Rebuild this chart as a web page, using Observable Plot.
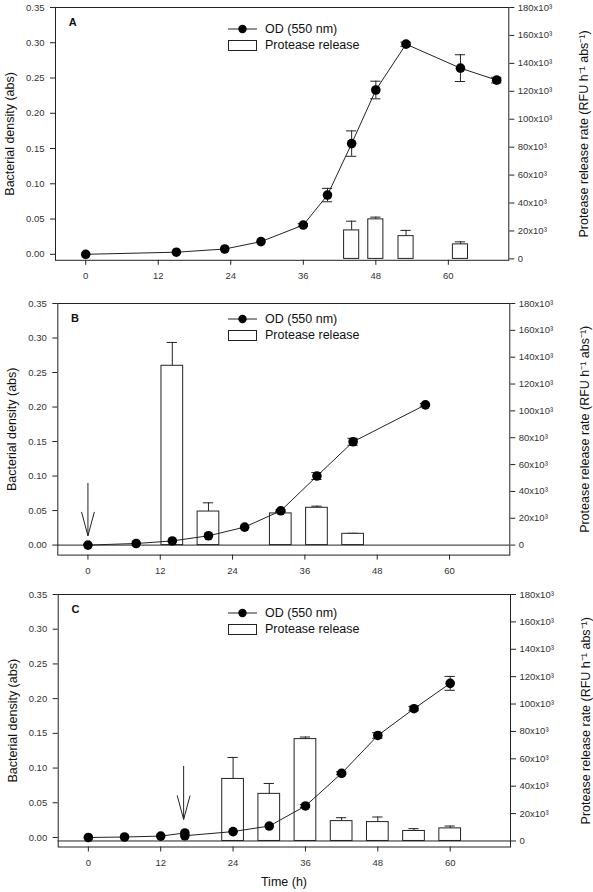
<!DOCTYPE html>
<html><head><meta charset="utf-8">
<script src="https://cdn.jsdelivr.net/npm/d3@7"></script>
<script src="https://cdn.jsdelivr.net/npm/@observablehq/plot@0.6"></script>
<style>
body{margin:0;background:#fff;font-family:"Liberation Sans",Arial,sans-serif;}
#chart{position:relative;width:593px;height:892px;overflow:hidden;background:#fff;}
#chart svg.plotsvg{position:absolute;left:0;overflow:visible;}
.leg{position:absolute;font-size:12.5px;color:#111;line-height:16px;}
.leg .row{display:flex;align-items:center;height:16px;}
.leg .row span{margin-left:7px;}
.xlab{position:absolute;left:0;width:568px;text-align:center;font-size:12.5px;color:#111;line-height:16px;}
</style></head><body><div id="chart"></div>
<script>
// ---------- data ----------
const panelNames = ["A", "B", "C"];
const xTicks = [0, 12, 24, 36, 48, 60];
const leftTicks = [0, 0.05, 0.10, 0.15, 0.20, 0.25, 0.30, 0.35];
const rightTicks = [0, 20000, 40000, 60000, 80000, 100000, 120000, 140000, 160000, 180000];
const leftLabel = "Bacterial density (abs)";
const rightLabel = "Protease release rate (RFU h\u207B\u00B9 abs\u207B\u00B9)";
const xLabel = "Time (h)";
const legendOD = "OD (550 nm)";
const legendBar = "Protease release";

// Panel A
const odTimeA  = [0, 15, 23, 29, 36, 40, 44, 48, 53, 62, 68];
const odValueA = [0.000, 0.003, 0.0075, 0.018, 0.0415, 0.084, 0.157, 0.233, 0.298, 0.264, 0.247];
const odErrA   = [0, 0, 0, 0, 0.002, 0.0095, 0.018, 0.0125, 0.003, 0.019, 0.004];
const barTimeA  = [44, 48, 53, 62];
const barValueA = [20400, 28300, 16300, 10400];
const barErrA   = [6600, 1600, 4100, 1800];

// Panel B
const odTimeB  = [0, 8, 14, 20, 26, 32, 38, 44, 56];
const odValueB = [0.000, 0.0023, 0.006, 0.0135, 0.026, 0.0497, 0.100, 0.1497, 0.2032];
const odErrB   = [0, 0, 0, 0, 0, 0.001, 0.005, 0.005, 0.002];
const barTimeB  = [14, 20, 32, 38, 44];
const barValueB = [133600, 25000, 23600, 27800, 8400];
const barErrB   = [17400, 6500, 800, 1200, 400];
const arrowTimeB = [0], arrowTopB = [0.09], arrowTipB = [0.0135];

// Panel C
const odTimeC  = [0, 6, 12, 16, 16, 24, 30, 36, 42, 48, 54, 60];
const odValueC = [0.000, 0.0007, 0.002, 0.0065, 0.0025, 0.0085, 0.0165, 0.0454, 0.0925, 0.147, 0.1855, 0.222];
const odErrC   = [0, 0, 0, 0, 0, 0, 0, 0.002, 0.002, 0.004, 0.003, 0.010];
const barTimeC  = [24, 30, 36, 42, 48, 54, 60];
const barValueC = [45300, 34400, 74400, 14500, 13800, 7300, 9200];
const barErrC   = [15700, 7600, 1500, 2500, 3700, 1700, 1700];
const arrowTimeC = [15.8], arrowTopC = [0.103], arrowTipC = [0.026];

// ---------- build ----------
const mk = (ts, vs, es) => ts.map((t, i) => ({t, v: vs[i], e: es[i]}));
const mkArrow = (ts, tops, tips) => ts.map((t, i) => ({t, top: tops[i], tip: tips[i]}));

const panels = [
  {name: "A", od: mk(odTimeA, odValueA, odErrA), bars: mk(barTimeA, barValueA, barErrA), arrows: [],
   L: {top: 6.5, bottom: 259.3, left: 55, right: 508.3, yMin: -0.0085, rMin: -1000, zero: false, legendY: 29, barW: 2.5}},
  {name: "B", od: mk(odTimeB, odValueB, odErrB), bars: mk(barTimeB, barValueB, barErrB), arrows: mkArrow(arrowTimeB, arrowTopB, arrowTipB),
   L: {top: 302.7, bottom: 554.3, left: 57.3, right: 509.3, yMin: -0.0145, rMin: -7450, zero: true, legendY: 319, barW: 3.6}},
  {name: "C", od: mk(odTimeC, odValueC, odErrC), bars: mk(barTimeC, barValueC, barErrC), arrows: mkArrow(arrowTimeC, arrowTopC, arrowTipC),
   L: {top: 593.5, bottom: 846, left: 57.7, right: 510, yMin: -0.0137, rMin: -4400, zero: true, legendY: 612.7, barW: 3.6}}
];

const root = document.getElementById("chart");
const ink = "#222";
const cap = 0.85;      // half-width of error caps (hours)
const headW = 1.05, headH = 0.034;
const fmtR = d => d === 0 ? "0" : `${d / 1000}x10\u00B3`;
const svgStyle = "background:transparent;overflow:visible;font-family:'Liberation Sans',Arial,sans-serif;font-size:9.5px;color:#222;";

for (const p of panels) {
  const L = p.L, mt = 10, mb = 45;
  const h = mt + (L.bottom - L.top) + mb;
  const common = {width: 593, height: h, marginTop: mt, marginBottom: mb,
    marginLeft: L.left, marginRight: 593 - L.right, style: svgStyle};

  const barPlot = Plot.plot({...common,
    x: {domain: [-5, 70], axis: null},
    y: {domain: [L.rMin, 180000]},
    marks: [
      L.zero ? Plot.ruleY([0], {stroke: ink, strokeWidth: 1}) : null,
      Plot.ruleX(p.bars, {x: "t", y1: "v", y2: d => d.v + d.e, stroke: ink}),
      Plot.ruleY(p.bars, {y: d => d.v + d.e, x1: d => d.t - cap, x2: d => d.t + cap, stroke: ink}),
      Plot.rect(p.bars, {x1: d => d.t - L.barW / 2, x2: d => d.t + L.barW / 2, y1: d => 0, y2: "v", fill: "white", stroke: ink, strokeWidth: 1}),
      Plot.axisY({anchor: "right", ticks: rightTicks, tickFormat: fmtR, tickSize: 5, tickPadding: 4, label: null, stroke: ink, fill: "#333", fontSize: 9.5}),
      Plot.text([rightLabel], {frameAnchor: "right", dx: 75, rotate: -90, textAnchor: "middle", lineAnchor: "middle", fontSize: 12.5, fill: "#111"})
    ]
  });

  const odErr = p.od.filter(d => d.e > 0);
  const heads = p.arrows.flatMap(a => [
    {t: a.t - headW, y: a.tip + headH, k: a.t}, {t: a.t, y: a.tip, k: a.t}, {t: a.t + headW, y: a.tip + headH, k: a.t}
  ]);
  const odPlot = Plot.plot({...common,
    x: {domain: [-5, 70]},
    y: {domain: [L.yMin, 0.35]},
    marks: [
      Plot.frame({stroke: ink, strokeWidth: 1}),
      Plot.link(p.arrows, {x1: "t", x2: "t", y1: "top", y2: "tip", stroke: ink, strokeWidth: 1}),
      Plot.line(heads, {x: "t", y: "y", z: "k", stroke: ink, strokeWidth: 1}),
      Plot.line(p.od, {x: "t", y: "v", stroke: ink, strokeWidth: 1}),
      Plot.ruleX(odErr, {x: "t", y1: d => d.v - d.e, y2: d => d.v + d.e, stroke: ink}),
      Plot.ruleY(odErr, {y: d => d.v + d.e, x1: d => d.t - cap, x2: d => d.t + cap, stroke: ink}),
      Plot.ruleY(odErr, {y: d => d.v - d.e, x1: d => d.t - cap, x2: d => d.t + cap, stroke: ink}),
      Plot.dot(p.od, {x: "t", y: "v", r: 4.8, fill: "black", stroke: "none"}),
      Plot.axisY({anchor: "left", ticks: leftTicks, tickFormat: d3.format(".2f"), tickSize: 5, tickPadding: 6, label: null, stroke: ink, fill: "#333", fontSize: 9.5}),
      Plot.axisX({anchor: "bottom", ticks: xTicks, tickSize: 5, tickPadding: 7, label: null, stroke: ink, fill: "#333", fontSize: 9.5}),
      Plot.text([p.name], {frameAnchor: "top-left", dx: 13.3, dy: 10.8, fontWeight: "bold", fontSize: 11, fill: "#111"}),
      Plot.text([leftLabel], {frameAnchor: "left", dx: -45.5, rotate: -90, textAnchor: "middle", lineAnchor: "middle", fontSize: 12.5, fill: "#111"})
    ]
  });

  for (const s of [barPlot, odPlot]) {
    s.classList.add("plotsvg");
    s.style.top = (L.top - mt) + "px";
    root.appendChild(s);
  }

  // legend
  const leg = document.createElement("div");
  leg.className = "leg";
  leg.style.left = "228px";
  leg.style.top = (L.legendY - 8) + "px";
  leg.innerHTML =
    `<div class="row"><svg width="30" height="16"><line x1="0" x2="29" y1="8" y2="8" stroke="${ink}"/><circle cx="14.5" cy="8" r="4.2" fill="black"/></svg><span>${legendOD}</span></div>` +
    `<div class="row"><svg width="30" height="16"><rect x="0.5" y="3.5" width="28" height="10" fill="white" stroke="${ink}"/></svg><span>${legendBar}</span></div>`;
  root.appendChild(leg);
}

const xl = document.createElement("div");
xl.className = "xlab";
xl.style.top = (881.7 - 8) + "px";
xl.textContent = xLabel;
root.appendChild(xl);
</script></body></html>
